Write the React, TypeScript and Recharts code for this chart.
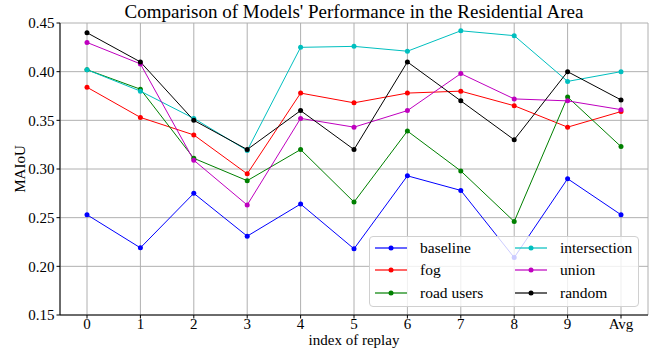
import React from 'react';
import { LineChart, Line, XAxis, YAxis, CartesianGrid } from 'recharts';

// index of replay
const replays = ['0', '1', '2', '3', '4', '5', '6', '7', '8', '9', 'Avg'];

// MAIoU per model
const baseline = [0.253, 0.219, 0.275, 0.231, 0.264, 0.218, 0.293, 0.278, 0.209, 0.290, 0.253];
const fog = [0.384, 0.353, 0.335, 0.295, 0.378, 0.368, 0.378, 0.380, 0.365, 0.343, 0.359];
const roadUsers = [0.402, 0.382, 0.311, 0.288, 0.320, 0.266, 0.339, 0.298, 0.246, 0.374, 0.323];
const intersection = [0.402, 0.380, 0.352, 0.319, 0.425, 0.426, 0.421, 0.442, 0.437, 0.390, 0.400];
const union = [0.430, 0.408, 0.309, 0.263, 0.352, 0.343, 0.360, 0.398, 0.372, 0.370, 0.361];
const random = [0.440, 0.410, 0.350, 0.320, 0.360, 0.320, 0.410, 0.370, 0.330, 0.400, 0.371];

const yTicks = [0.15, 0.2, 0.25, 0.3, 0.35, 0.4, 0.45];

const series = [
  { key: 'baseline', name: 'baseline', color: '#0000ff', values: baseline },
  { key: 'fog', name: 'fog', color: '#ff0000', values: fog },
  { key: 'roadUsers', name: 'road users', color: '#008000', values: roadUsers },
  { key: 'intersection', name: 'intersection', color: '#00bfbf', values: intersection },
  { key: 'union', name: 'union', color: '#bf00bf', values: union },
  { key: 'random', name: 'random', color: '#000000', values: random },
];

const data = replays.map((r, i) => {
  const row: Record<string, string | number> = { replay: r };
  series.forEach((s) => (row[s.key] = s.values[i]));
  return row;
});

const FONT = "'Liberation Serif', 'DejaVu Serif', serif";

// legend box like matplotlib (2 columns, semi transparent)
function LegendBox() {
  return (
    <div
      style={{
        position: 'absolute',
        left: 369,
        top: 236,
        width: 270,
        height: 71,
        boxSizing: 'border-box',
        border: '1px solid #d0d0d0',
        borderRadius: 4,
        background: 'rgba(255,255,255,0.8)',
        fontFamily: FONT,
        fontSize: 15.5,
        color: '#000',
      }}
    >
      {series.map((s, i) => {
        const col = Math.floor(i / 3);
        const row = i % 3;
        const left = col === 0 ? 5 : 145;
        const top = 11 + row * 22.3;
        return (
          <div key={s.key}>
            <svg
              width={34}
              height={8}
              style={{ position: 'absolute', left, top: top - 4 }}
            >
              <line x1={0} y1={4} x2={32} y2={4} stroke={s.color} strokeWidth={1.2} />
              <circle cx={16} cy={4} r={2.5} fill={s.color} />
            </svg>
            <span
              style={{
                position: 'absolute',
                left: left + 45,
                top: top - 9,
                lineHeight: '18px',
                whiteSpace: 'nowrap',
              }}
            >
              {s.name}
            </span>
          </div>
        );
      })}
    </div>
  );
}

const YLabel = (props: any) => {
  const vb = props.viewBox || { y: 23, height: 292 };
  const cy = vb.y + vb.height / 2;
  return (
    <text
      x={25}
      y={cy}
      transform={`rotate(-90 25 ${cy})`}
      textAnchor="middle"
      style={{ fontFamily: FONT, fontSize: 15 }}
      fill="#000"
    >
      MAIoU
    </text>
  );
};

const tickStyle = { fill: '#000', fontSize: 15, style: { fontFamily: FONT } };

export default function App() {
  return (
    <div
      style={{
        position: 'absolute',
        left: 0,
        top: 0,
        width: 657,
        height: 354,
        background: '#fff',
        fontFamily: FONT,
      }}
    >
      <div
        style={{
          position: 'absolute',
          left: 60,
          width: 588,
          top: 0,
          textAlign: 'center',
          fontSize: 19,
          lineHeight: '23px',
          color: '#000',
          whiteSpace: 'nowrap',
          zIndex: 2,
        }}
      >
        Comparison of Models' Performance in the Residential Area
      </div>
      <LineChart
        width={657}
        height={354}
        data={data}
        margin={{ top: 23, right: 9, left: 0, bottom: 0 }}
        style={{ fontFamily: FONT }}
      >
        <CartesianGrid stroke="#b0b0b0" strokeWidth={1} />
        <XAxis
          dataKey="replay"
          height={39}
          padding={{ left: 27, right: 27 }}
          tickSize={3.5}
          tickMargin={0}
          stroke="#000"
          tick={tickStyle}
          label={{
            value: 'index of replay',
            position: 'insideBottom',
            offset: 9,
            fill: '#000',
            fontSize: 15,
            style: { fontFamily: FONT },
          }}
        />
        <XAxis
          xAxisId="top"
          dataKey="replay"
          orientation="top"
          height={0}
          tick={false}
          tickLine={false}
          stroke="#000"
        />
        <YAxis
          width={60}
          domain={[0.15, 0.45]}
          ticks={yTicks}
          tickSize={3.5}
          tickMargin={2}
          stroke="#000"
          tickFormatter={(v: number) => v.toFixed(2)}
          tick={tickStyle}
          label={<YLabel />}
        />
        <YAxis
          yAxisId="right"
          orientation="right"
          width={0}
          domain={[0.15, 0.45]}
          tick={false}
          tickLine={false}
          stroke="#000"
        />
        {series.map((s) => (
          <Line
            key={s.key}
            dataKey={s.key}
            name={s.name}
            stroke={s.color}
            strokeWidth={1}
            dot={{ r: 2.5, fill: s.color, stroke: s.color, strokeWidth: 0 }}
            isAnimationActive={false}
          />
        ))}
      </LineChart>
      <LegendBox />
    </div>
  );
}
